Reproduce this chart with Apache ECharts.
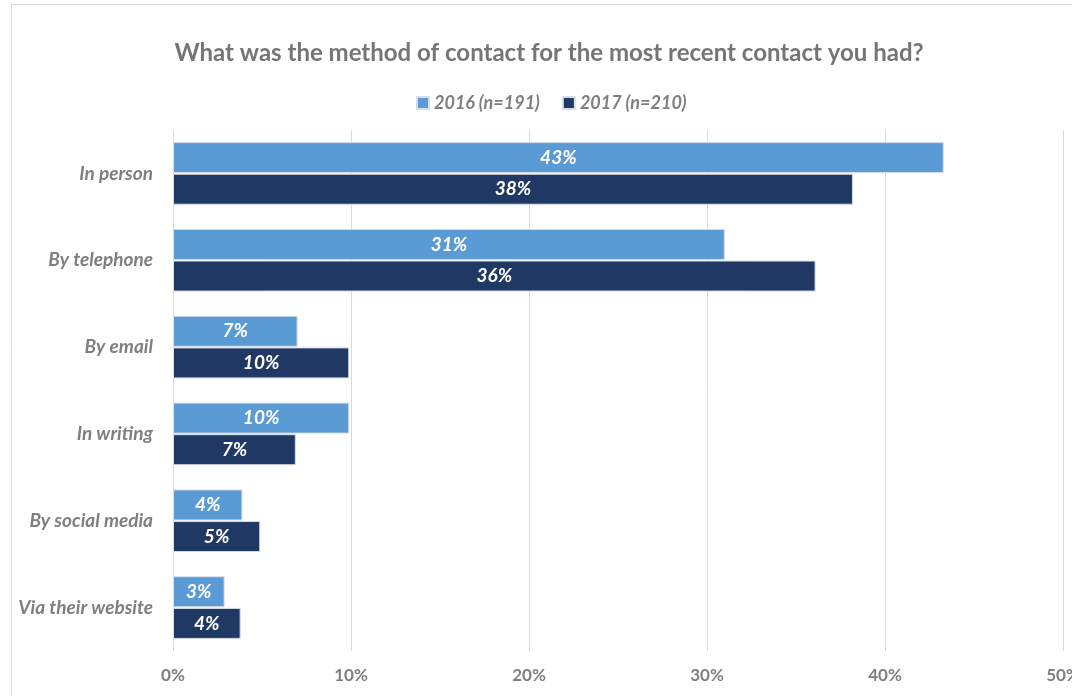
<!DOCTYPE html>
<html>
<head>
<meta charset="utf-8">
<title>Method of contact</title>
<script src="https://cdn.jsdelivr.net/npm/echarts@6/dist/echarts.min.js"></script>
<style>
  html, body { margin: 0; padding: 0; background: #ffffff; }
  #chart { width: 1072px; height: 696px; }
</style>
</head>
<body>
<div id="chart"></div>
<script>
// Contact methods, top to bottom
const categories = ['In person', 'By telephone', 'By email', 'In writing', 'By social media', 'Via their website'];
// Share of respondents (%) per year
const values2016 = [43.3, 31.0, 7.0, 9.9, 3.9, 2.9];
const values2017 = [38.2, 36.1, 9.9, 6.9, 4.9, 3.8];
const seriesNames = ['2016 (n=191)', '2017 (n=210)'];
const xTicks = [0, 10, 20, 30, 40, 50];

const FONT = 'Lato, "Open Sans", sans-serif';
const GREY = '#7f7f7f';

const chart = echarts.init(document.getElementById('chart'), null, { renderer: 'canvas' });

const barLabel = {
  show: true,
  position: 'inside',
  color: '#ffffff',
  fontFamily: FONT,
  fontWeight: 'bold',
  fontStyle: 'italic',
  fontSize: 19,
  formatter: p => Math.round(p.value) + '%'
};

chart.setOption({
  backgroundColor: '#ffffff',
  animation: false,
  graphic: [{
    type: 'rect',
    shape: { x: 11.5, y: 4.5, width: 1100, height: 720 },
    style: { fill: 'none', stroke: '#d9d9d9', lineWidth: 1 },
    silent: true,
    z: -1
  }],
  title: {
    text: 'What was the method of contact for the most recent contact you had?',
    left: 544,
    top: 36,
    textAlign: 'center',
    textStyle: { fontFamily: FONT, fontWeight: 'bold', fontSize: 24, color: '#757575' }
  },
  legend: {
    data: seriesNames,
    left: 411,
    top: 89,
    icon: 'rect',
    itemWidth: 12,
    itemHeight: 12,
    itemGap: 22,
    textStyle: { fontFamily: FONT, fontStyle: 'italic', fontWeight: 'bold', fontSize: 18, color: GREY }
  },
  grid: { left: 173, right: 9, top: 130, bottom: 45, containLabel: false, outerBoundsMode: 'none' },
  xAxis: {
    type: 'value',
    min: xTicks[0],
    max: xTicks[xTicks.length - 1],
    interval: 10,
    axisLine: { show: false },
    axisTick: { show: false },
    splitLine: { show: true, lineStyle: { color: '#d9d9d9', width: 1 } },
    axisLabel: {
      formatter: v => v + '%',
      margin: 16,
      fontFamily: FONT,
      fontWeight: 'bold',
      fontSize: 17,
      color: GREY
    }
  },
  yAxis: {
    type: 'category',
    data: categories,
    inverse: true,
    axisLine: { show: false },
    axisTick: { show: false },
    axisLabel: {
      margin: 20,
      fontFamily: FONT,
      fontWeight: 'bold',
      fontStyle: 'italic',
      fontSize: 19,
      color: GREY
    }
  },
  series: [
    {
      name: seriesNames[0],
      type: 'bar',
      data: values2016,
      barWidth: 31,
      barGap: '2%',
      itemStyle: { color: '#5b9bd5', borderColor: '#d6dde6', borderWidth: 1 },
      label: barLabel
    },
    {
      name: seriesNames[1],
      type: 'bar',
      data: values2017,
      barWidth: 31,
      barGap: '2%',
      itemStyle: { color: '#203864', borderColor: '#d6dde6', borderWidth: 1 },
      label: barLabel
    }
  ]
});
</script>
</body>
</html>
